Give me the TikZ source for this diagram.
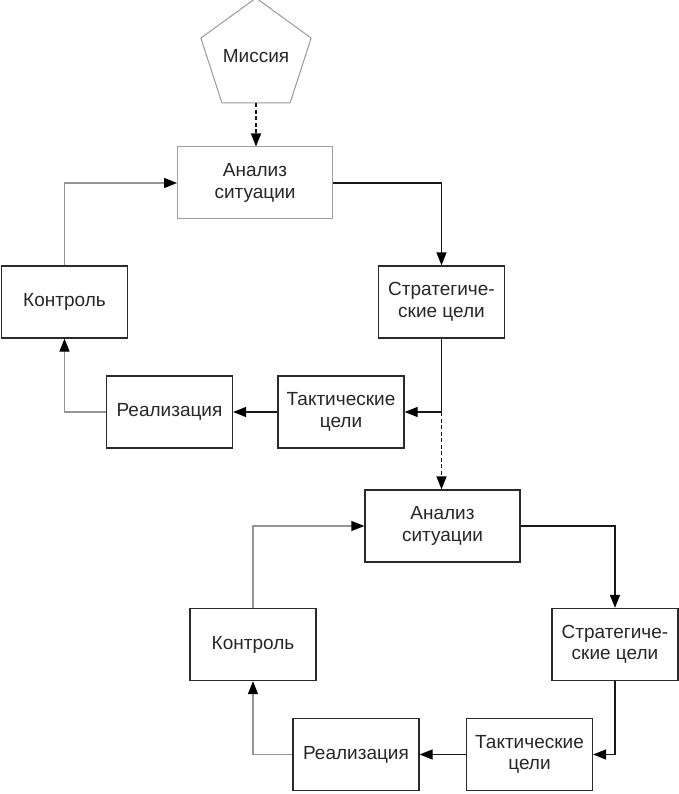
\documentclass[tikz,border=0pt]{standalone}
\usepackage{fontspec}
\setmainfont{Liberation Sans}
\usetikzlibrary{arrows.meta,shapes.geometric}
\definecolor{boxline}{HTML}{2A2A2A}
\definecolor{loopline}{HTML}{959595}
\tikzset{
  box/.style={draw=boxline, line width=1.3pt, minimum width=126pt, minimum height=72pt,
    inner sep=0pt, align=center, font=\fontsize{19}{21.5}\selectfont, text=black!85},
  widebox/.style={box, minimum width=155pt},
  lightbox/.style={draw=gray!75, line width=1pt},
  tip/.style={-{Triangle[length=13pt,width=10pt,color=black]}},
  flow/.style={draw=black!90, line width=1.3pt, tip},
  loop/.style={draw=loopline, line width=1.3pt, tip},
  dashflow/.style={draw=black!90, line width=1.5pt, dash pattern=on 4pt off 2.5pt, tip},
  mission/.style={regular polygon, regular polygon sides=5, minimum size=104pt, inner sep=0pt,
    draw=gray!80, line width=1pt, font=\fontsize{19}{21.5}\selectfont, text=black!85}
}
\begin{document}
\begin{tikzpicture}[x=1pt,y=-1pt]
\useasboundingbox (0,0) rectangle (679,794);
% mission
\node[mission] (M) at (256,56) {Миссия};
% first cycle
\node[widebox, lightbox] (A1) at (255,183) {Анализ\\ситуации};
\node[box] (K1) at (64.5,302) {Контроль};
\node[box] (S1) at (441.5,302) {Стратегиче-\\ские цели};
\node[box] (T1) at (341,412) {Тактические\\цели};
\node[box] (R1) at (169.5,412) {Реализация};
% second cycle
\node[widebox] (A2) at (442.5,526) {Анализ\\ситуации};
\node[box] (K2) at (253,644.5) {Контроль};
\node[box] (S2) at (615,644.5) {Стратегиче-\\ские цели};
\node[box] (T2) at (529.5,754.5) {Тактические\\цели};
\node[box] (R2) at (356,754.5) {Реализация};
% connectors, first cycle
\draw[dashflow] (M.south) -- (M.south |- A1.north);
\draw[flow] (A1.east) -| (S1.north);
\draw[flow] (S1.south) |- (T1.east);
\draw[flow] (T1.west) -- (R1.east);
\draw[loop] (R1.west) -| (K1.south);
\draw[loop] (K1.north) |- (A1.west);
\coordinate (C1) at (S1.south |- T1.east);
\draw[dashflow] (C1) -- (C1 |- A2.north);
% connectors, second cycle
\draw[flow] (A2.east) -| (S2.north);
\draw[flow] (S2.south) |- (T2.east);
\draw[flow] (T2.west) -- (R2.east);
\draw[loop] (R2.west) -| (K2.south);
\draw[loop] (K2.north) |- (A2.west);
\end{tikzpicture}
\end{document}
